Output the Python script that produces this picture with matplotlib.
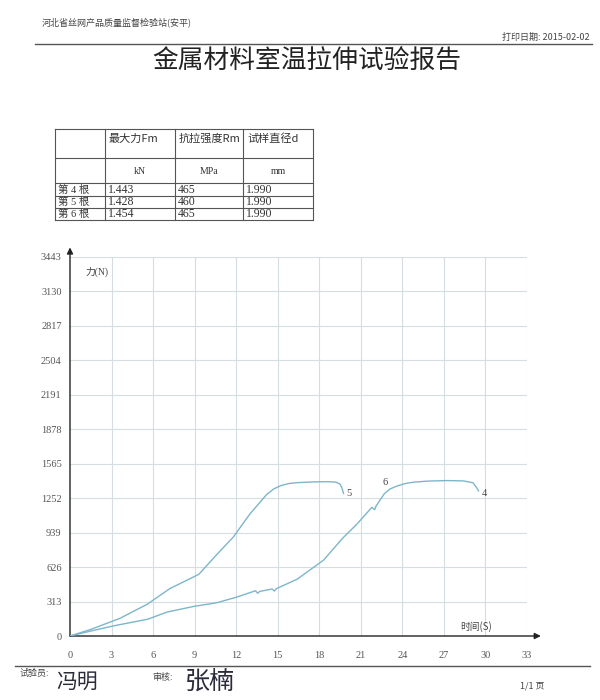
import matplotlib
matplotlib.use("Agg")
import matplotlib.pyplot as plt

plt.rcParams['font.family'] = ['Noto Sans CJK SC', 'DejaVu Sans']

# ---------------- data ----------------
header_org = "河北省丝网产品质量监督检验站(安平)"
print_date = "打印日期: 2015-02-02"
title = "金属材料室温拉伸试验报告"

col_headers = ["最大力Fm", "抗拉强度Rm", "试样直径d"]
col_units = ["kN", "MPa", "mm"]
row_labels = ["第 4 根", "第 5 根", "第 6 根"]
fm_values = ["1.443", "1.428", "1.454"]
rm_values = ["465", "460", "465"]
d_values = ["1.990", "1.990", "1.990"]

x_ticks = [0, 3, 6, 9, 12, 15, 18, 21, 24, 27, 30, 33]
y_ticks = [0, 313, 626, 939, 1252, 1565, 1878, 2191, 2504, 2817, 3130, 3443]

# curve of specimen 5
t5 = [0, 1.5, 3.6, 5.6, 7.2, 9.3, 10.6, 11.8, 13.0, 14.2, 14.7, 15.2, 15.8,
      16.4, 17.6, 18.6, 19.2, 19.5, 19.65, 19.75]
f5 = [0, 60, 160, 290, 430, 560, 740, 900, 1110, 1285, 1335, 1365, 1385,
      1393, 1400, 1402, 1398, 1380, 1340, 1295]
# curve of specimen 4 (6 overlaps)
t4 = [0, 1.5, 3.1, 5.6, 7.0, 8.9, 10.6, 12.0, 13.4, 13.55, 13.7, 14.6, 14.75,
      14.9, 16.4, 18.3, 19.7, 20.7, 21.8, 22.0, 22.1, 22.7, 23.1, 23.6, 24.2,
      24.8, 25.8, 27.2, 28.4, 29.1, 29.35, 29.5]
f4 = [0, 45, 91, 152, 217, 268, 302, 352, 411, 388, 405, 427, 408,
      430, 516, 688, 890, 1014, 1169, 1148, 1180, 1293, 1335, 1362, 1385,
      1397, 1407, 1412, 1409, 1392, 1350, 1318]

curve_labels = ["5", "6", "4"]
curve_label_pos = [(19.95, 1290), (22.6, 1395), (29.75, 1290)]

operator_label = "试验员:"
operator_sig = "冯明"
reviewer_label = "审核:"
reviewer_sig = "张楠"
page_label = "1/1 页"

# ---------------- figure ----------------
fig = plt.figure(figsize=(6, 7), dpi=100)
bg = fig.add_axes([0, 0, 1, 1])
bg.set_xlim(0, 600)
bg.set_ylim(700, 0)
bg.axis('off')

serif = ['Liberation Serif', 'Noto Sans CJK SC']
txtc = '#444444'

# header
bg.text(42, 22, header_org, fontsize=6.5, color=txtc, va='center', ha='left')
bg.text(590, 37, print_date, fontsize=6.5, color=txtc, va='center', ha='right',
        family=['Noto Sans CJK SC', 'DejaVu Sans'])
bg.plot([35, 592], [44, 44], color='#555555', lw=1.0)
bg.text(307, 62, title, fontsize=18.5, color='#222222', ha='center', va='center')

# table
xs = [55, 105, 175, 243, 313]
ys = [129, 158, 183, 195.5, 207.5, 220]
for y in ys:
    bg.plot([xs[0], xs[-1]], [y, y], color='#555555', lw=0.8)
for x in xs:
    bg.plot([x, x], [ys[0], ys[-1]], color='#555555', lw=0.8)
for i, h in enumerate(col_headers):
    bg.text(xs[i + 1] + 4, 139, h, fontsize=8, color='#333333', va='center',
            ha='left', family=['Noto Sans CJK SC', 'Liberation Serif'])
    bg.text((xs[i + 1] + xs[i + 2]) / 2, 171, col_units[i], fontsize=7,
            color='#333333', va='center', ha='center', family=serif)
for r in range(3):
    yc = (ys[r + 2] + ys[r + 3]) / 2 + 0.5
    bg.text(58, yc, row_labels[r], fontsize=7.5, color='#333333', va='center',
            ha='left', family=serif)
    for c, vals in enumerate([fm_values, rm_values, d_values]):
        bg.text(xs[c + 1] + 3, yc, vals[r], fontsize=8.5, color='#333333',
                va='center', ha='left', family=serif)

# footer
bg.plot([15, 590], [666, 666], color='#555555', lw=1.0)
bg.text(20, 673, operator_label, fontsize=6.5, color=txtc, va='center', ha='left')
bg.text(56, 682, operator_sig, fontsize=15, color='#2b2b3b', va='center',
        ha='left', fontweight='light')
bg.text(152, 677, reviewer_label, fontsize=6.5, color=txtc, va='center', ha='left')
bg.text(185, 682, reviewer_sig, fontsize=18, color='#2b2b3b', va='center',
        ha='left', fontweight='light')
bg.text(520, 686, page_label, fontsize=6.5, color=txtc, va='center', ha='left')

# chart
ax = fig.add_axes([70 / 600, 1 - 636 / 700, 457 / 600, 379 / 700])
ax.set_xlim(0, 33)
ax.set_ylim(0, 3443)
ax.patch.set_alpha(0)
for s in ax.spines.values():
    s.set_visible(False)
gridc = '#d5dde1'
for xv in x_ticks[1:]:
    ax.axvline(xv, color=gridc, lw=0.8, zorder=0)
for yv in y_ticks[1:]:
    ax.axhline(yv, color=gridc, lw=0.8, zorder=0)

ax.set_xticks(x_ticks)
ax.set_yticks(y_ticks)
ax.set_xticklabels([str(v) for v in x_ticks], family='Liberation Serif',
                   fontsize=7.5, color='#555555')
ax.set_yticklabels([str(v) for v in y_ticks], family='Liberation Serif',
                   fontsize=7.5, color='#555555')
ax.tick_params(axis='both', length=0)
ax.tick_params(axis='x', pad=11)
ax.tick_params(axis='y', pad=6)

ax.annotate('', xy=(0, 3530), xytext=(0, 0), annotation_clip=False,
            arrowprops=dict(arrowstyle='-|>', color='#222222', lw=1.0,
                            mutation_scale=9, shrinkA=0, shrinkB=0))
ax.annotate('', xy=(34.0, 0), xytext=(0, 0), annotation_clip=False,
            arrowprops=dict(arrowstyle='-|>', color='#222222', lw=1.0,
                            mutation_scale=9, shrinkA=0, shrinkB=0))

curvec = '#7db6ca'
ax.plot(t5, f5, color=curvec, lw=1.0, zorder=3)
ax.plot(t4, f4, color=curvec, lw=1.0, zorder=3)
for lab, (xv, yv) in zip(curve_labels, curve_label_pos):
    ax.text(xv, yv, lab, fontsize=7.5, color='#444444', ha='left', va='center',
            family='Liberation Serif')

ax.text(1.1, 3310, "力(N)", fontsize=7, color='#444444', ha='left', va='center',
        family=['Liberation Serif', 'Noto Sans CJK SC'])
ax.text(29.3, 40, "时间(S)", fontsize=7, color='#444444', ha='center',
        va='bottom', family=['Noto Sans CJK SC', 'Liberation Serif'])

fig.savefig('out.png', dpi=100, facecolor='white')
